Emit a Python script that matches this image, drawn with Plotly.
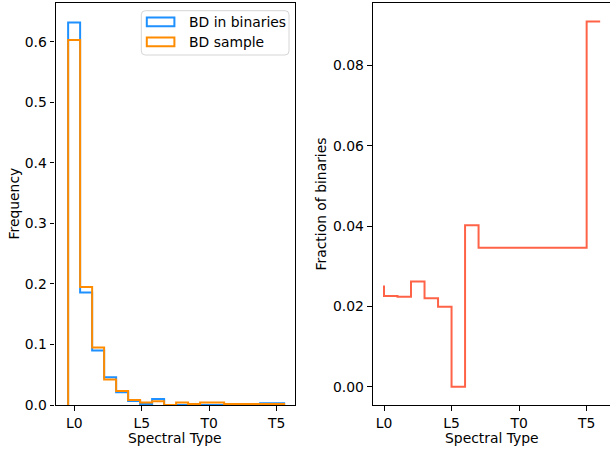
import numpy as np
import plotly.graph_objects as go

# ---------------- data ----------------
type_ticks = [0, 5, 10, 15]
type_labels = ["L0", "L5", "T0", "T5"]

hist_range = [-0.45, 15.55]
n_bins = 18
binaries_freq = [0.632, 0.186, 0.090, 0.046, 0.021, 0.0066, 0.0017, 0.0099, 0.0,
                 0.0, 0.0, 0.0, 0.0, 0.0, 0.0, 0.0, 0.003, 0.003]
sample_freq = [0.603, 0.195, 0.095, 0.042, 0.023, 0.0083, 0.004, 0.006, 0.0,
               0.004, 0.0017, 0.004, 0.004, 0.0017, 0.0017, 0.0017, 0.0017, 0.0017]

frac_types = [0, 1, 2, 3, 4, 5, 6, 7, 15, 16]
frac_binaries = [0.0252, 0.0226, 0.0224, 0.0262, 0.0220, 0.0199, 0.0, 0.0402, 0.0346, 0.0909]

freq_ticks = [0.0, 0.1, 0.2, 0.3, 0.4, 0.5, 0.6]
frac_ticks = [0.00, 0.02, 0.04, 0.06, 0.08]

# ---------------- helpers ----------------
W, H = 610, 452
FONT = "DejaVu Sans"
FS = 13.9


def px(x):
    return x / W


def py(y):
    return 1 - y / H


def step_outline(edges, vals):
    xs = [edges[0]] + list(edges[1:]) + [edges[-1]]
    ys = [0.0] + list(vals) + [0.0]
    return xs, ys


bin_edges = np.linspace(hist_range[0], hist_range[1], n_bins + 1)

fig = go.Figure()

bx, byv = step_outline(bin_edges, binaries_freq)
sx, syv = step_outline(bin_edges, sample_freq)

fig.add_trace(go.Scatter(x=bx, y=byv, mode="lines", line_shape="vh",
                         line=dict(color="#1E90FF", width=2),
                         name="BD in binaries", showlegend=False,
                         xaxis="x", yaxis="y"))
fig.add_trace(go.Scatter(x=sx, y=syv, mode="lines", line_shape="vh",
                         line=dict(color="#FF8C00", width=2),
                         name="BD sample", showlegend=False,
                         xaxis="x", yaxis="y"))
fig.add_trace(go.Scatter(x=frac_types, y=frac_binaries, mode="lines", line_shape="vh",
                         line=dict(color="#FF6347", width=2),
                         name="Fraction of binaries", showlegend=False,
                         xaxis="x2", yaxis="y2"))

ydom = [py(405), py(3.3)]
axis_common = dict(showgrid=False, zeroline=False, showline=True, linecolor="black",
                   linewidth=1.1, ticks="outside", ticklen=4.9, tickwidth=1.1,
                   tickcolor="black", tickfont=dict(family=FONT, size=FS, color="black"))

fig.update_layout(
    width=W, height=H, autosize=False,
    margin=dict(l=0, r=0, t=0, b=0, autoexpand=False),
    paper_bgcolor="white", plot_bgcolor="white",
    showlegend=False,
    font=dict(family=FONT, size=FS, color="black"),
    xaxis=dict(domain=[px(55.5), px(295)], range=[(55.5 - 74.2) / 13.5, (295 - 74.2) / 13.5],
               tickvals=type_ticks, ticktext=type_labels, mirror=True, anchor="y",
               **axis_common),
    yaxis=dict(domain=ydom, range=[0, 0.6636], tickvals=freq_ticks,
               ticktext=[f"{v:.1f}" for v in freq_ticks], mirror=True, anchor="x",
               **axis_common),
    xaxis2=dict(domain=[px(372.7), 1.0], range=[(372.7 - 384) / 13.51, (610 - 384) / 13.51],
                tickvals=type_ticks, ticktext=type_labels, mirror=True, anchor="y2",
                **axis_common),
    yaxis2=dict(domain=ydom, range=[-0.004545, 0.09545], tickvals=frac_ticks,
                ticktext=[f"{v:.2f}" for v in frac_ticks], mirror=False, anchor="x2",
                **axis_common),
)

# axis titles
ann = [
    dict(text="Spectral Type", x=px(175.3), y=py(438), xref="paper", yref="paper",
         showarrow=False, xanchor="center", yanchor="middle"),
    dict(text="Spectral Type", x=px(491.8), y=py(438), xref="paper", yref="paper",
         showarrow=False, xanchor="center", yanchor="middle"),
    dict(text="Frequency", x=px(13.5), y=py(204), xref="paper", yref="paper",
         showarrow=False, xanchor="center", yanchor="middle", textangle=-90),
    dict(text="Fraction of binaries", x=px(320.5), y=py(204), xref="paper", yref="paper",
         showarrow=False, xanchor="center", yanchor="middle", textangle=-90),
    # legend labels
    dict(text="BD in binaries", x=px(187), y=py(22), xref="paper", yref="paper",
         showarrow=False, xanchor="left", yanchor="middle"),
    dict(text="BD sample", x=px(187), y=py(42), xref="paper", yref="paper",
         showarrow=False, xanchor="left", yanchor="middle"),
]
for a in ann:
    a["font"] = dict(family=FONT, size=FS, color="black")
fig.update_layout(annotations=ann)

# legend frame (rounded) and patches
x0, x1, y0, y1, r = 141.3, 289.0, 10.7, 55.0, 4.0
path = (f"M {px(x0 + r)},{py(y0)} L {px(x1 - r)},{py(y0)} Q {px(x1)},{py(y0)} {px(x1)},{py(y0 + r)} "
        f"L {px(x1)},{py(y1 - r)} Q {px(x1)},{py(y1)} {px(x1 - r)},{py(y1)} "
        f"L {px(x0 + r)},{py(y1)} Q {px(x0)},{py(y1)} {px(x0)},{py(y1 - r)} "
        f"L {px(x0)},{py(y0 + r)} Q {px(x0)},{py(y0)} {px(x0 + r)},{py(y0)} Z")
shapes = [
    dict(type="path", path=path, xref="paper", yref="paper",
         line=dict(color="#d6d6d6", width=1), fillcolor="rgba(255,255,255,0.8)"),
    dict(type="rect", xref="paper", yref="paper", x0=px(146.8), x1=px(174.4),
         y0=py(17.6), y1=py(26.2), line=dict(color="#1E90FF", width=2)),
    dict(type="rect", xref="paper", yref="paper", x0=px(146.8), x1=px(174.4),
         y0=py(37.6), y1=py(46.2), line=dict(color="#FF8C00", width=2)),
]
fig.update_layout(shapes=shapes)

fig.write_html("out.html")
